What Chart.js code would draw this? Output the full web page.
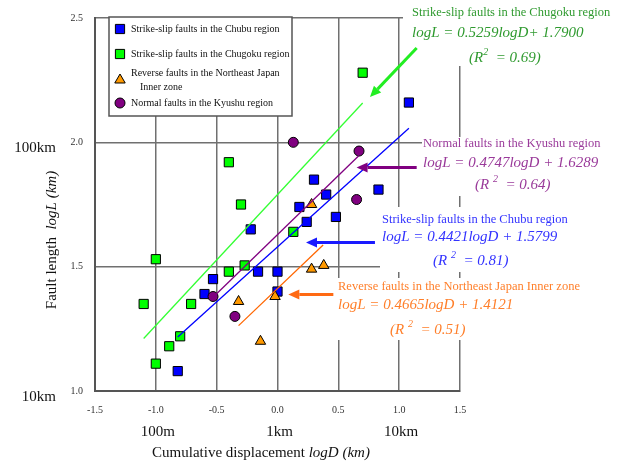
<!DOCTYPE html>
<html>
<head>
<meta charset="utf-8">
<script src="https://cdn.jsdelivr.net/npm/chart.js@4"></script>
<style>
  html, body { margin: 0; padding: 0; background: #fff; }
  #wrap { width: 622px; height: 466px; }
</style>
</head>
<body>
<div id="wrap"><canvas id="chart" width="622" height="466"></canvas></div>
<script>
// values (logD, logL)
const chubuX = [1.08, 0.83, 0.30, 0.40, 0.18, 0.48, 0.24, -0.22, -0.16, 0.00, -0.53, -0.60, 0.00, -0.82];
const chubuY = [2.16, 1.81, 1.85, 1.79, 1.74, 1.70, 1.68, 1.65, 1.48, 1.48, 1.45, 1.39, 1.40, 1.08];
const chugokuX = [0.70, -0.40, -0.30, 0.13, -1.00, -0.27, -0.40, -0.71, -1.10, -0.80, -0.89, -1.00];
const chugokuY = [2.28, 1.92, 1.75, 1.64, 1.53, 1.505, 1.48, 1.35, 1.35, 1.22, 1.18, 1.11];
const reverseX = [0.28, 0.38, 0.28, -0.32, -0.02, -0.14];
const reverseY = [1.75, 1.505, 1.49, 1.36, 1.38, 1.20];
const normalX = [0.13, 0.67, 0.65, -0.53, -0.35];
const normalY = [2.00, 1.965, 1.77, 1.38, 1.30];

// regression line ends
const chugokuFitX = [-1.10, 0.70], chugokuFitY = [1.211, 2.158];
const chubuFitX = [-0.82, 1.08], chubuFitY = [1.217, 2.057];
const normalFitX = [-0.53, 0.67], normalFitY = [1.377, 1.947];
const reverseFitX = [-0.32, 0.375], reverseFitY = [1.263, 1.587];

// arrows [x from, y from, x to, y to]
const arrowChugoku = [1.144, 2.379, 0.760, 2.182];
const arrowNormal = [1.144, 1.899, 0.650, 1.899];
const arrowChubu = [0.801, 1.597, 0.234, 1.597];
const arrowReverse = [0.459, 1.388, 0.089, 1.388];

const xTicks = [-1.5, -1.0, -0.5, 0.0, 0.5, 1.0, 1.5];
const yTicks = [1.0, 1.5, 2.0, 2.5];
const xUnitLabels = ['100m', '1km', '10km'], xUnitAt = [-1.0, 0.0, 1.0];
const yUnitLabels = ['100km', '10km'], yUnitAt = [2.0, 1.0];

const SERIF = '"Liberation Serif", "Times New Roman", serif';

function pts(xs, ys) { return xs.map((x, i) => ({ x: x, y: ys[i] })); }

// draws a row of text pieces with different fonts
function runs(ctx, parts, x, y, align) {
    let w = 0;
    parts.forEach(p => { ctx.font = p.f; w += ctx.measureText(p.t).width; });
    let cx = align === 'center' ? x - w / 2 : (align === 'right' ? x - w : x);
    ctx.textAlign = 'left';
    parts.forEach(p => {
        ctx.font = p.f;
        ctx.fillText(p.t, cx, y + (p.dy || 0));
        cx += ctx.measureText(p.t).width;
    });
}

function arrow(ctx, sx, sy, a, color) {
    const x1 = sx.getPixelForValue(a[0]), y1 = sy.getPixelForValue(a[1]);
    const x2 = sx.getPixelForValue(a[2]), y2 = sy.getPixelForValue(a[3]);
    const ang = Math.atan2(y2 - y1, x2 - x1);
    const head = 11, half = 5;
    const bx = x2 - head * Math.cos(ang), by = y2 - head * Math.sin(ang);
    ctx.strokeStyle = color;
    ctx.fillStyle = color;
    ctx.lineWidth = 3;
    ctx.beginPath();
    ctx.moveTo(x1, y1);
    ctx.lineTo(bx, by);
    ctx.stroke();
    ctx.beginPath();
    ctx.moveTo(x2, y2);
    ctx.lineTo(bx + half * Math.sin(ang), by - half * Math.cos(ang));
    ctx.lineTo(bx - half * Math.sin(ang), by + half * Math.cos(ang));
    ctx.closePath();
    ctx.fill();
}

const overlay = {
    id: 'overlay',
    beforeDatasetsDraw(chart) {
        const ctx = chart.ctx;
        ctx.save();
        // white text boxes sitting over the grid
        ctx.fillStyle = '#fff';
        ctx.fillRect(403, 0, 219, 66);
        ctx.fillRect(422, 137, 200, 59);
        ctx.fillRect(380, 207, 242, 65);
        ctx.fillRect(336, 278, 286, 62);

        // legend box
        ctx.fillRect(109, 17, 183, 99);
        ctx.strokeStyle = '#555';
        ctx.lineWidth = 1.5;
        ctx.strokeRect(109, 17, 183, 99);
        ctx.fillStyle = '#111';
        ctx.textBaseline = 'middle';
        ctx.font = '10px ' + SERIF;
        ctx.textAlign = 'left';
        ctx.fillText('Strike-slip faults in the Chubu region', 131, 29);
        ctx.fillText('Strike-slip faults in the Chugoku region', 131, 54);
        ctx.fillText('Reverse faults in the Northeast Japan', 131, 73);
        ctx.fillText('Inner zone', 140, 87);
        ctx.fillText('Normal faults in the Kyushu region', 131, 103);
        const ds = chart.data.datasets;
        const rows = [29, 54, 80, 103];
        [0, 1, 2, 3].forEach(i => {
            const d = ds[i];
            const r = d.pointRadius;
            ctx.fillStyle = d.backgroundColor;
            ctx.strokeStyle = d.borderColor;
            ctx.lineWidth = 1;
            ctx.beginPath();
            if (d.pointStyle === 'rect') {
                const s = r / Math.SQRT2;
                ctx.rect(120 - s, rows[i] - s, 2 * s, 2 * s);
            } else if (d.pointStyle === 'triangle') {
                ctx.moveTo(120, rows[i] - r);
                ctx.lineTo(120 + r * 0.87, rows[i] + r * 0.5);
                ctx.lineTo(120 - r * 0.87, rows[i] + r * 0.5);
                ctx.closePath();
            } else {
                ctx.arc(120, rows[i], r, 0, Math.PI * 2);
            }
            ctx.fill();
            ctx.stroke();
        });

        // equation notes
        const f1 = '12.5px ' + SERIF, fe = 'italic 15px ' + SERIF, fs = 'italic 10px ' + SERIF;
        ctx.fillStyle = '#2f9a2f';
        runs(ctx, [{ t: 'Strike-slip faults in the Chugoku region', f: f1 }], 412, 13);
        runs(ctx, [{ t: 'logL = 0.5259logD+ 1.7900', f: fe }], 412, 33);
        runs(ctx, [{ t: '(R', f: fe }, { t: '2', f: fs, dy: -6 }, { t: '  = 0.69)', f: fe }], 469, 58);

        ctx.fillStyle = '#9a3a9a';
        runs(ctx, [{ t: 'Normal faults in the Kyushu region', f: f1 }], 423, 144);
        runs(ctx, [{ t: 'logL = 0.4747logD + 1.6289', f: fe }], 423, 163);
        runs(ctx, [{ t: '(R ', f: fe }, { t: '2', f: fs, dy: -6 }, { t: '  = 0.64)', f: fe }], 475, 185);

        ctx.fillStyle = '#3333ff';
        runs(ctx, [{ t: 'Strike-slip faults in the Chubu region', f: f1 }], 382, 220);
        runs(ctx, [{ t: 'logL = 0.4421logD + 1.5799', f: fe }], 382, 237);
        runs(ctx, [{ t: '(R ', f: fe }, { t: '2', f: fs, dy: -6 }, { t: '  = 0.81)', f: fe }], 433, 261);

        ctx.fillStyle = '#ff7f2a';
        runs(ctx, [{ t: 'Reverse faults in the Northeast Japan Inner zone', f: f1 }], 338, 287);
        runs(ctx, [{ t: 'logL = 0.4665logD + 1.4121', f: fe }], 338, 305);
        runs(ctx, [{ t: '(R ', f: fe }, { t: '2', f: fs, dy: -6 }, { t: '  = 0.51)', f: fe }], 390, 330);
        ctx.restore();
    },
    afterDatasetsDraw(chart) {
        const ctx = chart.ctx, sx = chart.scales.x, sy = chart.scales.y;
        ctx.save();
        arrow(ctx, sx, sy, arrowChugoku, '#22ee22');
        arrow(ctx, sx, sy, arrowNormal, '#800080');
        arrow(ctx, sx, sy, arrowChubu, '#1a1aff');
        arrow(ctx, sx, sy, arrowReverse, '#ff6a13');
        ctx.restore();
    },
    afterDraw(chart) {
        const ctx = chart.ctx, sx = chart.scales.x, sy = chart.scales.y;
        const fn = '15px ' + SERIF, fi = 'italic 15px ' + SERIF;
        ctx.save();
        ctx.fillStyle = '#111';
        ctx.textBaseline = 'middle';
        xUnitLabels.forEach((t, i) => {
            runs(ctx, [{ t: t, f: fn }], sx.getPixelForValue(xUnitAt[i]) + 2, 432, 'center');
        });
        yUnitLabels.forEach((t, i) => {
            runs(ctx, [{ t: t, f: fn }], 56, sy.getPixelForValue(yUnitAt[i]) + 6, 'right');
        });
        runs(ctx, [{ t: 'Cumulative displacement ', f: fn }, { t: 'logD (km)', f: fi }], 261, 453, 'center');
        ctx.translate(52, 240);
        ctx.rotate(-Math.PI / 2);
        runs(ctx, [{ t: 'Fault length  ', f: fn }, { t: 'logL (km)', f: fi }], 0, 0, 'center');
        ctx.restore();
    }
};

const gridStyle = { color: '#707070', lineWidth: 1.5, drawTicks: false };
const tickFont = { family: SERIF, size: 10 };

new Chart(document.getElementById('chart'), {
    type: 'scatter',
    data: {
        datasets: [
            { label: 'Strike-slip faults in the Chubu region', data: pts(chubuX, chubuY),
              pointStyle: 'rect', pointRadius: 6.5, backgroundColor: '#0000ff', borderColor: '#000', borderWidth: 1, order: 3 },
            { label: 'Strike-slip faults in the Chugoku region', data: pts(chugokuX, chugokuY),
              pointStyle: 'rect', pointRadius: 6.5, backgroundColor: '#00ff00', borderColor: '#000', borderWidth: 1, order: 4 },
            { label: 'Reverse faults in the Northeast Japan Inner zone', data: pts(reverseX, reverseY),
              pointStyle: 'triangle', pointRadius: 6, backgroundColor: '#ff9900', borderColor: '#000', borderWidth: 1, order: 1 },
            { label: 'Normal faults in the Kyushu region', data: pts(normalX, normalY),
              pointStyle: 'circle', pointRadius: 5, backgroundColor: '#800080', borderColor: '#000', borderWidth: 1, order: 2 },
            { type: 'line', data: pts(chugokuFitX, chugokuFitY), borderColor: '#33ff33', borderWidth: 1.3, pointRadius: 0, fill: false, order: 0 },
            { type: 'line', data: pts(chubuFitX, chubuFitY), borderColor: '#0000ff', borderWidth: 1.3, pointRadius: 0, fill: false, order: 0 },
            { type: 'line', data: pts(normalFitX, normalFitY), borderColor: '#800080', borderWidth: 1.3, pointRadius: 0, fill: false, order: 0 },
            { type: 'line', data: pts(reverseFitX, reverseFitY), borderColor: '#ff6600', borderWidth: 1.3, pointRadius: 0, fill: false, order: 0 }
        ]
    },
    options: {
        responsive: false,
        animation: false,
        devicePixelRatio: 1,
        layout: { padding: { left: 0, right: 162, top: 11, bottom: 0 } },
        plugins: { legend: { display: false }, tooltip: { enabled: false } },
        scales: {
            x: {
                type: 'linear', min: -1.5, max: 1.5,
                afterBuildTicks: s => { s.ticks = xTicks.map(v => ({ value: v })); },
                afterFit: s => { s.height = 75; },
                grid: gridStyle,
                border: { color: '#555', width: 2 },
                ticks: { font: tickFont, color: '#333', padding: 13, maxRotation: 0,
                         callback: v => v.toFixed(1) }
            },
            y: {
                type: 'linear', min: 1.0, max: 2.5,
                afterBuildTicks: s => { s.ticks = yTicks.map(v => ({ value: v })); },
                afterFit: s => { s.width = 95; },
                grid: gridStyle,
                border: { color: '#555', width: 2 },
                ticks: { font: tickFont, color: '#333', padding: 12,
                         callback: v => v.toFixed(1) }
            }
        }
    },
    plugins: [overlay]
});
</script>
</body>
</html>
